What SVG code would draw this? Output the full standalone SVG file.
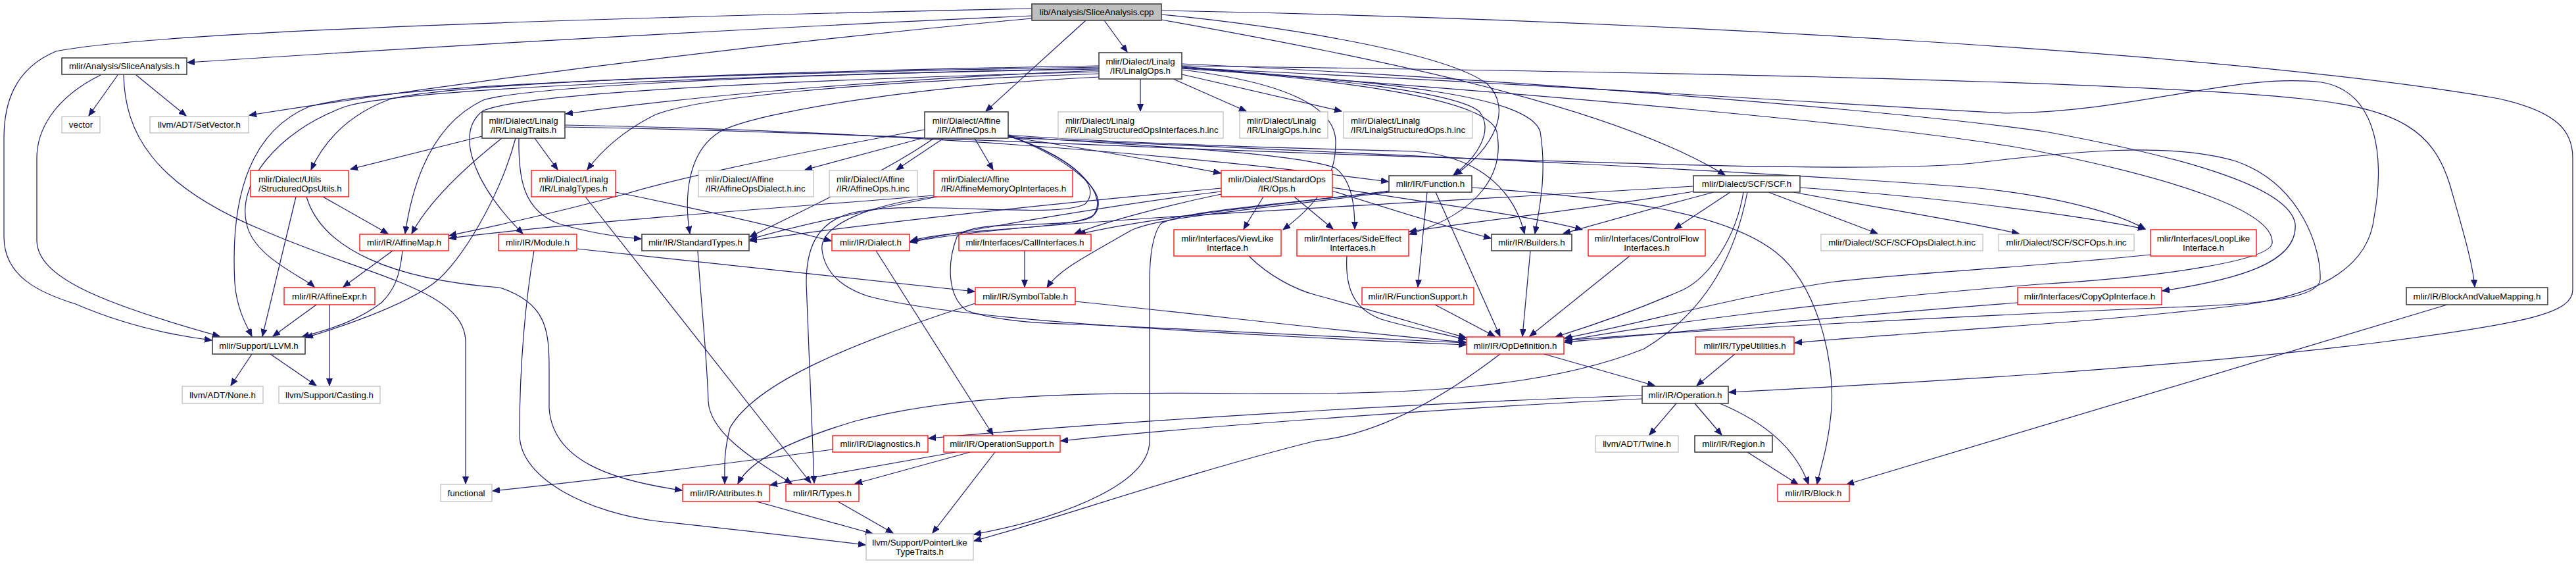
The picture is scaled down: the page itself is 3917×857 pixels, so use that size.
<svg xmlns="http://www.w3.org/2000/svg" width="3917" height="857" viewBox="0 0 3917 857">
<defs>
<marker id="a" markerWidth="12" markerHeight="10" refX="11" refY="4.5" orient="auto" markerUnits="userSpaceOnUse"><path d="M0,0 L11,4.5 L0,9 z" fill="#191970" stroke="#191970" stroke-width="1"/></marker>
<style>
rect{fill:#fff;stroke-width:1.3}
.k rect{stroke:#404040;stroke-width:1.6}
.r rect{stroke:#ff0000}
.g rect{stroke:#bfbfbf}
.root rect{fill:#bfbfbf;stroke:#404040;stroke-width:1.6}
text{font-family:"Liberation Sans",Arial,Helvetica,sans-serif;font-size:13.33px;fill:#000;text-anchor:middle}
text.l{text-anchor:start}
#edges path{fill:none;stroke:#191970;stroke-width:1.2;marker-end:url(#a)}
</style>
</defs>
<rect x="0" y="0" width="3917" height="857" style="fill:#fff;stroke:none"/>
<g id="edges">
<path d="M1569,24 C1200,40 700,68 285,95"/>
<path d="M1569,13 C1000,25 250,45 85,78 C20,105 6,160 6,210 L6,360 C6,420 60,445 115,462 C180,490 250,508 322,517"/>
<path d="M1569,28 C1200,62 800,110 379,175"/>
<path d="M1679,31 L1714,79"/>
<path d="M1651,31 L1499,169"/>
<path d="M1766,22 C1950,40 2200,80 2262,128 C2300,165 2272,225 2212,266"/>
<path d="M1766,30 C2100,90 2450,160 2623,266"/>
<path d="M1766,16 C2500,30 3400,80 3800,150 C3890,170 3912,200 3912,240 L3912,440 C3912,475 3850,490 3620,520 C3300,560 2900,582 2629,596"/>
<path d="M179,114 L135,176"/>
<path d="M207,114 L283,176"/>
<path d="M153,114 C80,150 56,200 56,240 L56,365 C56,420 150,460 334,511"/>
<path d="M188,114 C190,200 230,280 400,350 C560,420 708,440 708,520 L708,735"/>
<path d="M1671,107 C1400,118 1100,140 860,173"/>
<path d="M1671,100 C1200,108 700,125 595,150 C525,175 490,220 473,258"/>
<path d="M1671,112 C1300,125 1060,148 995,175 C945,200 912,232 893,258"/>
<path d="M1671,104 C1200,113 810,130 735,152 C665,185 630,260 616,355"/>
<path d="M1671,109 C1200,122 800,140 735,168 C690,200 720,280 795,355"/>
<path d="M1671,117 C1400,130 1150,170 1095,200 C1045,230 1040,300 1049,355"/>
<path d="M1671,102 C1200,110 600,125 470,162 C380,200 350,300 357,430 C360,470 375,495 383,511"/>
<path d="M1671,105 C1200,113 620,132 525,162 C420,200 360,280 375,340 C385,390 460,420 478,436"/>
<path d="M1734,120 L1734,169"/>
<path d="M1784,120 L1895,169"/>
<path d="M1797,113 L2040,169"/>
<path d="M1797,101 C2000,118 2215,138 2250,170 C2272,200 2245,240 2210,266"/>
<path d="M1797,102 C2050,123 2262,150 2276,200 C2288,262 2252,322 2143,356"/>
<path d="M1797,103 C2110,124 2325,145 2342,200 C2352,262 2342,312 2334,355"/>
<path d="M1797,106 C1950,125 2030,160 2031,215 C2032,280 1990,320 1951,349"/>
<path d="M1797,97 C2300,120 2900,170 3110,200 C3300,235 3480,280 3490,340 C3495,400 3400,425 3288,442"/>
<path d="M1797,100 C2400,108 3200,120 3500,150 C3650,165 3700,200 3725,280 C3745,350 3760,400 3763,436"/>
<path d="M1797,104 C2300,140 2900,190 3100,230 C3300,270 3460,320 3455,370 C3450,395 3300,420 3100,432 C2800,455 2500,495 2380,518"/>
<path d="M1797,103 C2400,130 2900,165 3050,172 C3250,170 3400,110 3530,125 C3620,140 3625,250 3610,330 C3600,420 3500,450 3420,462 C3200,490 2900,505 2729,521"/>
<path d="M733,207 L533,257"/>
<path d="M763,210 C700,260 650,310 626,355"/>
<path d="M813,210 L848,258"/>
<path d="M789,210 C788,270 795,320 850,340 C900,355 940,360 975,363"/>
<path d="M784,210 C760,300 700,400 660,430 C620,460 540,490 465,513"/>
<path d="M859,190 C1250,197 1700,222 2111,276"/>
<path d="M859,193 C1250,200 1500,215 2000,233 C2500,250 2850,262 3000,248 C3150,230 3300,215 3400,245 C3500,280 3530,380 3528,425 C3525,452 3450,462 3300,467 C3000,480 2600,500 2380,517"/>
<path d="M1410,208 L1224,258"/>
<path d="M1435,210 L1363,258"/>
<path d="M1482,210 L1510,258"/>
<path d="M1533,208 C1650,225 1760,245 1856,263"/>
<path d="M1406,197 C1250,225 1050,265 950,295 C820,330 730,348 683,358"/>
<path d="M1420,210 C1350,260 1200,330 1140,360"/>
<path d="M1533,205 C1700,218 1950,225 2150,230 C2260,238 2305,300 2318,355"/>
<path d="M1533,207 C1700,220 1960,230 2030,255 C2058,275 2060,320 2060,348"/>
<path d="M1533,207 C1640,240 1690,300 1660,330 C1620,350 1480,330 1455,360 C1440,400 1440,450 1470,472 C1520,490 1600,492 1650,493 C1850,502 2050,512 2229,521"/>
<path d="M1533,209 C2000,230 2600,255 3000,285 C3150,300 3230,330 3262,348"/>
<path d="M1533,205 C1620,240 1690,290 1665,325 C1640,350 1460,345 1385,366"/>
<path d="M1533,206 C1620,235 1680,280 1650,310 C1600,335 1380,300 1290,325 C1240,340 1226,380 1226,430 L1238,734"/>
<path d="M1420,297 C1200,315 900,335 683,362"/>
<path d="M1425,299 C1320,320 1200,345 1140,364"/>
<path d="M1420,299 C1330,310 1245,340 1250,380 C1255,420 1290,440 1320,450 C1450,485 1800,505 2229,524"/>
<path d="M1921,299 L1891,348"/>
<path d="M1968,299 L2027,348"/>
<path d="M2026,290 C2120,320 2200,345 2267,362"/>
<path d="M2026,285 C2150,305 2330,328 2406,349"/>
<path d="M1857,295 C1760,315 1680,338 1634,355"/>
<path d="M1857,291 C1700,310 1500,345 1384,367"/>
<path d="M1857,286 C1650,305 1350,335 1140,366"/>
<path d="M2170,292 L2156,436"/>
<path d="M2183,292 L2281,511"/>
<path d="M2238,285 C2450,300 2620,320 2700,383 C2760,430 2790,540 2785,620 C2780,680 2768,710 2763,736"/>
<path d="M2112,290 C1950,310 1750,330 1640,356"/>
<path d="M2112,292 C1900,320 1760,330 1720,350 C1650,390 1610,410 1592,437"/>
<path d="M2112,291 C1950,310 1800,320 1765,340 C1750,360 1748,400 1748,430 L1748,670 C1748,740 1600,790 1481,812"/>
<path d="M2689,292 L2855,355"/>
<path d="M2727,292 C2850,315 2980,335 3070,355"/>
<path d="M2737,285 C2950,300 3150,325 3262,348"/>
<path d="M2631,292 L2546,348"/>
<path d="M2606,292 C2500,320 2430,340 2377,355"/>
<path d="M2575,291 C2400,320 2250,335 2143,352"/>
<path d="M2651,292 C2640,360 2600,420 2560,440 C2480,475 2420,495 2365,512"/>
<path d="M2657,292 C2640,380 2600,470 2500,530 C2350,590 2150,600 1900,598 C1650,595 1450,600 1300,640 C1200,670 1140,700 1122,735"/>
<path d="M2575,283 C2300,300 1900,320 1700,335 C1550,345 1450,355 1384,368"/>
<path d="M2348,538 L2516,586"/>
<path d="M2281,538 C2200,600 2100,660 2000,670 C1800,720 1600,790 1481,822"/>
<path d="M2638,538 L2580,586"/>
<path d="M2549,613 L2508,661"/>
<path d="M2577,613 L2618,661"/>
<path d="M2615,613 C2680,640 2730,680 2750,736"/>
<path d="M2497,601 C2200,610 1700,640 1412,666"/>
<path d="M2497,606 C2200,620 1800,650 1613,670"/>
<path d="M2657,687 L2734,736"/>
<path d="M3721,463 L2808,736"/>
<path d="M2327,381 L2315,511"/>
<path d="M2048,389 C2045,440 2060,470 2100,485 C2150,500 2200,508 2229,516"/>
<path d="M2478,389 L2326,511"/>
<path d="M1899,389 C1930,420 1970,440 2000,448 C2100,475 2180,500 2229,513"/>
<path d="M2182,463 L2273,511"/>
<path d="M1635,458 C1850,480 2050,505 2229,520"/>
<path d="M3068,460 C2800,480 2550,505 2379,520"/>
<path d="M3270,387 C3100,405 2900,415 2790,428 C2650,448 2500,490 2379,514"/>
<path d="M1558,381 L1558,436"/>
<path d="M877,378 L1482,443"/>
<path d="M812,381 C800,450 790,550 790,660 C790,730 900,780 1000,792 C1150,808 1250,820 1316,828"/>
<path d="M1332,381 L1510,661"/>
<path d="M1061,381 C1065,450 1075,540 1077,610 C1080,660 1150,700 1204,735"/>
<path d="M890,299 L1233,734"/>
<path d="M936,292 C1050,315 1180,345 1264,366"/>
<path d="M597,381 L522,436"/>
<path d="M612,381 C608,420 600,440 580,460 C540,490 500,500 459,512"/>
<path d="M491,299 L590,355"/>
<path d="M450,299 L399,511"/>
<path d="M466,299 C490,380 600,425 760,437 C830,460 835,500 835,560 L835,620 C840,700 930,730 1037,745"/>
<path d="M481,463 L415,511"/>
<path d="M501,463 L501,586"/>
<path d="M383,538 L351,586"/>
<path d="M411,538 L481,586"/>
<path d="M1266,683 C1100,705 900,730 749,746"/>
<path d="M1453,687 L1171,737"/>
<path d="M1475,687 L1300,735"/>
<path d="M1513,687 L1418,810"/>
<path d="M1150,762 L1327,811"/>
<path d="M1274,762 L1358,810"/>
<path d="M1483,461 C1300,520 1150,580 1110,650 C1100,690 1102,710 1102,735"/>
</g>
<g id="n_cpp" class="root"><rect x="1569" y="6" width="197" height="25"/><text x="1667.5" y="23">lib/Analysis/SliceAnalysis.cpp</text></g>
<g id="n_sa_h" class="k"><rect x="94" y="88" width="190" height="25"/><text x="189" y="105">mlir/Analysis/SliceAnalysis.h</text></g>
<g id="n_vector" class="g"><rect x="94" y="177" width="58" height="25"/><text x="123" y="194">vector</text></g>
<g id="n_setvector" class="g"><rect x="228" y="177" width="150" height="25"/><text x="303" y="194">llvm/ADT/SetVector.h</text></g>
<g id="n_linalgops" class="k"><rect x="1671" y="80" width="126" height="40"/><text x="1734" y="97.5">mlir/Dialect/Linalg</text><text x="1734" y="111.5">/IR/LinalgOps.h</text></g>
<g id="n_linalgtraits" class="k"><rect x="733" y="170" width="126" height="40"/><text x="796" y="187.5">mlir/Dialect/Linalg</text><text x="796" y="201.5">/IR/LinalgTraits.h</text></g>
<g id="n_affineops" class="k"><rect x="1406" y="170" width="127" height="40"/><text x="1469.5" y="187.5">mlir/Dialect/Affine</text><text x="1469.5" y="201.5">/IR/AffineOps.h</text></g>
<g id="n_lsoi_inc" class="g"><rect x="1609" y="170" width="251" height="40"/><text class="l" x="1620" y="187.5">mlir/Dialect/Linalg</text><text class="l" x="1620" y="201.5">/IR/LinalgStructuredOpsInterfaces.h.inc</text></g>
<g id="n_lops_inc" class="g"><rect x="1885" y="170" width="134" height="40"/><text class="l" x="1896" y="187.5">mlir/Dialect/Linalg</text><text class="l" x="1896" y="201.5">/IR/LinalgOps.h.inc</text></g>
<g id="n_lso_inc" class="g"><rect x="2043" y="170" width="196" height="40"/><text class="l" x="2054" y="187.5">mlir/Dialect/Linalg</text><text class="l" x="2054" y="201.5">/IR/LinalgStructuredOps.h.inc</text></g>
<g id="n_sou" class="r"><rect x="381" y="259" width="149" height="40"/><text class="l" x="393" y="276.5">mlir/Dialect/Utils</text><text class="l" x="393" y="290.5">/StructuredOpsUtils.h</text></g>
<g id="n_linalgtypes" class="r"><rect x="808" y="259" width="128" height="40"/><text x="872" y="276.5">mlir/Dialect/Linalg</text><text x="872" y="290.5">/IR/LinalgTypes.h</text></g>
<g id="n_aod_inc" class="g"><rect x="1062" y="259" width="175" height="40"/><text class="l" x="1073" y="276.5">mlir/Dialect/Affine</text><text class="l" x="1073" y="290.5">/IR/AffineOpsDialect.h.inc</text></g>
<g id="n_ao_inc" class="g"><rect x="1261" y="259" width="134" height="40"/><text class="l" x="1272" y="276.5">mlir/Dialect/Affine</text><text class="l" x="1272" y="290.5">/IR/AffineOps.h.inc</text></g>
<g id="n_amoi" class="r"><rect x="1420" y="259" width="211" height="40"/><text class="l" x="1431" y="276.5">mlir/Dialect/Affine</text><text class="l" x="1431" y="290.5">/IR/AffineMemoryOpInterfaces.h</text></g>
<g id="n_stdops" class="r"><rect x="1857" y="259" width="169" height="40"/><text x="1941.5" y="276.5">mlir/Dialect/StandardOps</text><text x="1941.5" y="290.5">/IR/Ops.h</text></g>
<g id="n_function" class="k"><rect x="2112" y="267" width="126" height="25"/><text x="2175" y="284">mlir/IR/Function.h</text></g>
<g id="n_scf" class="k"><rect x="2575" y="267" width="162" height="25"/><text x="2656" y="284">mlir/Dialect/SCF/SCF.h</text></g>
<g id="n_affinemap" class="r"><rect x="547" y="356" width="135" height="25"/><text x="614.5" y="373">mlir/IR/AffineMap.h</text></g>
<g id="n_module" class="r"><rect x="758" y="356" width="119" height="25"/><text x="817.5" y="373">mlir/IR/Module.h</text></g>
<g id="n_stdtypes" class="k"><rect x="976" y="356" width="163" height="25"/><text x="1057.5" y="373">mlir/IR/StandardTypes.h</text></g>
<g id="n_dialect" class="r"><rect x="1265" y="356" width="118" height="25"/><text x="1324" y="373">mlir/IR/Dialect.h</text></g>
<g id="n_callif" class="r"><rect x="1458" y="356" width="201" height="25"/><text x="1558.5" y="373">mlir/Interfaces/CallInterfaces.h</text></g>
<g id="n_viewlike" class="r"><rect x="1785" y="349" width="163" height="40"/><text x="1866.5" y="366.5">mlir/Interfaces/ViewLike</text><text x="1866.5" y="380.5">Interface.h</text></g>
<g id="n_sideeffect" class="r"><rect x="1972" y="349" width="170" height="40"/><text x="2057" y="366.5">mlir/Interfaces/SideEffect</text><text x="2057" y="380.5">Interfaces.h</text></g>
<g id="n_builders" class="k"><rect x="2268" y="356" width="122" height="25"/><text x="2329" y="373">mlir/IR/Builders.h</text></g>
<g id="n_controlflow" class="r"><rect x="2415" y="349" width="178" height="40"/><text x="2504" y="366.5">mlir/Interfaces/ControlFlow</text><text x="2504" y="380.5">Interfaces.h</text></g>
<g id="n_scfd_inc" class="g"><rect x="2769" y="356" width="246" height="25"/><text x="2892" y="373">mlir/Dialect/SCF/SCFOpsDialect.h.inc</text></g>
<g id="n_scfops_inc" class="g"><rect x="3039" y="356" width="206" height="25"/><text x="3142" y="373">mlir/Dialect/SCF/SCFOps.h.inc</text></g>
<g id="n_looplike" class="r"><rect x="3270" y="349" width="161" height="40"/><text x="3350.5" y="366.5">mlir/Interfaces/LoopLike</text><text x="3350.5" y="380.5">Interface.h</text></g>
<g id="n_affineexpr" class="r"><rect x="432" y="437" width="138" height="26"/><text x="501" y="454.5">mlir/IR/AffineExpr.h</text></g>
<g id="n_symboltable" class="r"><rect x="1483" y="437" width="152" height="26"/><text x="1559" y="454.5">mlir/IR/SymbolTable.h</text></g>
<g id="n_functionsupport" class="r"><rect x="2071" y="437" width="170" height="26"/><text x="2156" y="454.5">mlir/IR/FunctionSupport.h</text></g>
<g id="n_copyop" class="r"><rect x="3068" y="437" width="219" height="26"/><text x="3177.5" y="454.5">mlir/Interfaces/CopyOpInterface.h</text></g>
<g id="n_bavm" class="k"><rect x="3659" y="437" width="215" height="26"/><text x="3766.5" y="454.5">mlir/IR/BlockAndValueMapping.h</text></g>
<g id="n_llvm" class="k"><rect x="323" y="512" width="141" height="26"/><text x="393.5" y="529.5">mlir/Support/LLVM.h</text></g>
<g id="n_opdef" class="r"><rect x="2230" y="512" width="148" height="26"/><text x="2304" y="529.5">mlir/IR/OpDefinition.h</text></g>
<g id="n_typeutil" class="r"><rect x="2578" y="512" width="150" height="26"/><text x="2653" y="529.5">mlir/IR/TypeUtilities.h</text></g>
<g id="n_none" class="g"><rect x="277" y="587" width="123" height="26"/><text x="338.5" y="604.5">llvm/ADT/None.h</text></g>
<g id="n_casting" class="g"><rect x="424" y="587" width="154" height="26"/><text x="501" y="604.5">llvm/Support/Casting.h</text></g>
<g id="n_operation" class="k"><rect x="2497" y="587" width="131" height="26"/><text x="2562.5" y="604.5">mlir/IR/Operation.h</text></g>
<g id="n_diagnostics" class="r"><rect x="1266" y="662" width="145" height="25"/><text x="1338.5" y="679">mlir/IR/Diagnostics.h</text></g>
<g id="n_opsupport" class="r"><rect x="1435" y="662" width="177" height="25"/><text x="1523.5" y="679">mlir/IR/OperationSupport.h</text></g>
<g id="n_twine" class="g"><rect x="2426" y="662" width="126" height="25"/><text x="2489" y="679">llvm/ADT/Twine.h</text></g>
<g id="n_region" class="k"><rect x="2577" y="662" width="118" height="25"/><text x="2636" y="679">mlir/IR/Region.h</text></g>
<g id="n_functional" class="g"><rect x="670" y="736" width="78" height="26"/><text x="709" y="753.5">functional</text></g>
<g id="n_attributes" class="r"><rect x="1038" y="736" width="132" height="26"/><text x="1104" y="753.5">mlir/IR/Attributes.h</text></g>
<g id="n_types" class="r"><rect x="1195" y="736" width="111" height="26"/><text x="1250.5" y="753.5">mlir/IR/Types.h</text></g>
<g id="n_block" class="r"><rect x="2703" y="736" width="109" height="26"/><text x="2757.5" y="753.5">mlir/IR/Block.h</text></g>
<g id="n_plt" class="g"><rect x="1317" y="811" width="163" height="40"/><text x="1398.5" y="828.5">llvm/Support/PointerLike</text><text x="1398.5" y="842.5">TypeTraits.h</text></g>
</svg>
